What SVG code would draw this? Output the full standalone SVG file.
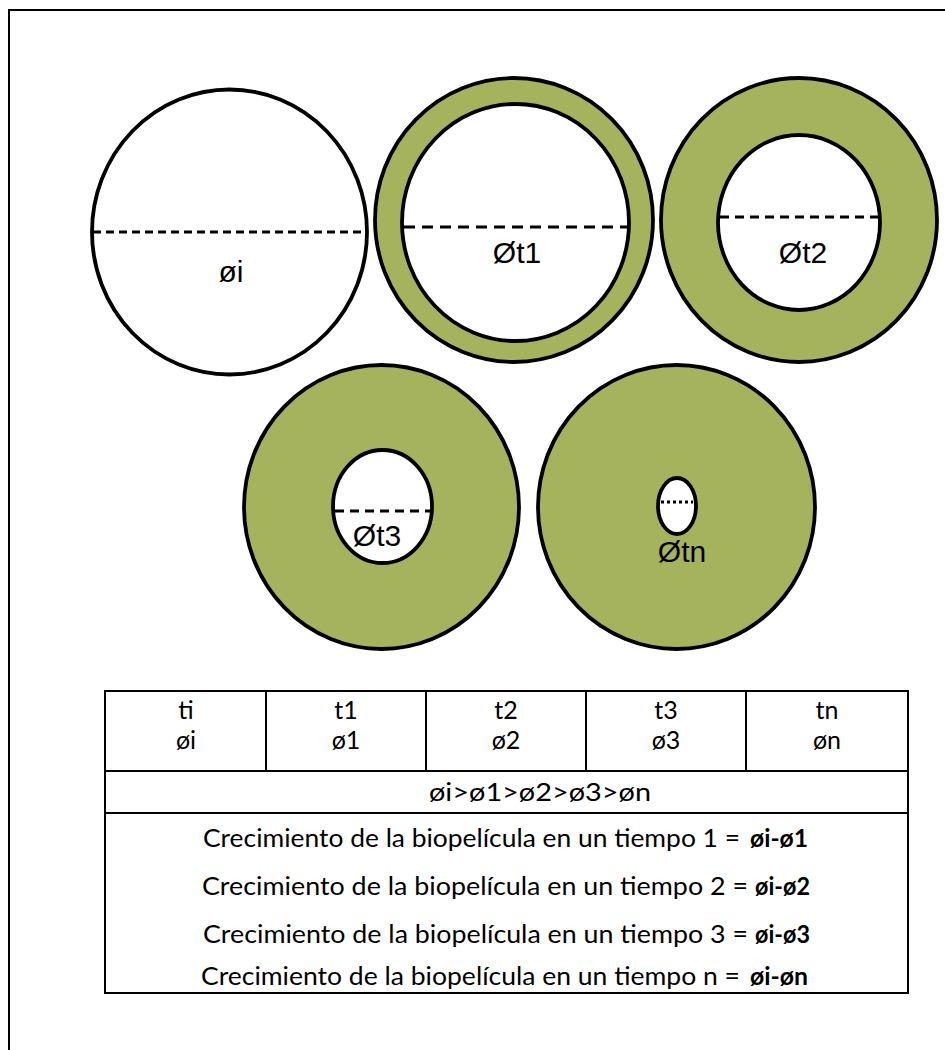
<svg xmlns="http://www.w3.org/2000/svg" width="945" height="1050" viewBox="0 0 945 1050">
<style>
.ring{fill:#A5B35C;stroke:#000;stroke-width:3.8}
.hole{fill:#fff;stroke:#000;stroke-width:3.8}
.dash{stroke:#000;stroke-width:3;fill:none}
.lbl{font-family:"Liberation Sans",Arial,sans-serif;font-size:30px;fill:#000;text-anchor:middle}
.grid{stroke:#000;stroke-width:2;fill:none}
.cell{font-family:Lato,"Liberation Sans",sans-serif;font-size:25px;fill:#000;text-anchor:middle}
.row{font-family:Lato,"Liberation Sans",sans-serif;font-size:25px;fill:#000}
.b{font-weight:bold}
</style>
<rect x="0" y="0" width="945" height="1050" fill="#fff"/>
<g id="frame"><path class="grid" d="M9,1050 V10 H945"/></g>

<g id="circle-ti">
<ellipse class="hole" cx="229.5" cy="232" rx="137.5" ry="142.5"/>
<line class="dash" x1="93" y1="232" x2="366" y2="232" stroke-dasharray="8 5"/>
<text class="lbl" x="231" y="282">øi</text>
</g>
<g id="circle-t1">
<ellipse class="ring" cx="514" cy="220" rx="139" ry="142"/>
<ellipse class="hole" cx="515.5" cy="222.5" rx="113.5" ry="118.5"/>
<line class="dash" x1="404" y1="227" x2="627" y2="227" stroke-dasharray="11 7"/>
<text class="lbl" x="517" y="263">Øt1</text>
</g>
<g id="circle-t2">
<ellipse class="ring" cx="799" cy="220" rx="138" ry="142"/>
<ellipse class="hole" cx="799" cy="222.5" rx="81" ry="87.5"/>
<line class="dash" x1="720" y1="217" x2="878" y2="217" stroke-dasharray="9 6"/>
<text class="lbl" x="803" y="263">Øt2</text>
</g>
<g id="circle-t3">
<ellipse class="ring" cx="381.5" cy="507" rx="137.5" ry="142"/>
<ellipse class="hole" cx="382.5" cy="506.5" rx="49.5" ry="56.5"/>
<line class="dash" x1="335" y1="511" x2="430" y2="511" stroke-dasharray="9 6"/>
<text class="lbl" x="377" y="546">Øt3</text>
</g>
<g id="circle-tn">
<ellipse class="ring" cx="676.5" cy="507" rx="138.5" ry="142"/>
<ellipse class="hole" cx="677" cy="506" rx="19" ry="28"/>
<line class="dash" x1="661" y1="502" x2="693" y2="502" stroke-width="2.5" stroke-dasharray="3 3"/>
<text class="lbl" x="682" y="562">Øtn</text>
</g>

<g id="table">
<rect class="grid" x="105" y="691" width="803" height="302"/>
<path class="grid" d="M105,771 H908 M105,813 H908 M266,691 V771 M426,691 V771 M586,691 V771 M746,691 V771"/>
<text class="cell" x="186" y="719">ti</text>
<text class="cell" x="186" y="749">øi</text>
<text class="cell" x="346" y="719">t1</text>
<text class="cell" x="346" y="749">ø1</text>
<text class="cell" x="506" y="719">t2</text>
<text class="cell" x="506" y="749">ø2</text>
<text class="cell" x="666" y="719">t3</text>
<text class="cell" x="666" y="749">ø3</text>
<text class="cell" x="827" y="719">tn</text>
<text class="cell" x="827" y="749">øn</text>
<text class="cell" x="540" y="801" textLength="222" lengthAdjust="spacingAndGlyphs">øi&gt;ø1&gt;ø2&gt;ø3&gt;øn</text>
<text class="row" x="203" y="847" textLength="537" lengthAdjust="spacingAndGlyphs">Crecimiento de la biopelícula en un tiempo 1 =</text>
<text class="row b" x="750" y="847" textLength="58" lengthAdjust="spacingAndGlyphs">øi-ø1</text>
<text class="row" x="202" y="895" textLength="546" lengthAdjust="spacingAndGlyphs">Crecimiento de la biopelícula en un tiempo 2  =</text>
<text class="row b" x="755" y="895" textLength="55" lengthAdjust="spacingAndGlyphs">øi-ø2</text>
<text class="row" x="203" y="943" textLength="545" lengthAdjust="spacingAndGlyphs">Crecimiento de la biopelícula en un tiempo 3  =</text>
<text class="row b" x="755" y="943" textLength="55" lengthAdjust="spacingAndGlyphs">øi-ø3</text>
<text class="row" x="201" y="985" textLength="539" lengthAdjust="spacingAndGlyphs">Crecimiento de la biopelícula en un tiempo n =</text>
<text class="row b" x="750" y="985" textLength="58" lengthAdjust="spacingAndGlyphs">øi-øn</text>
</g>
</svg>
